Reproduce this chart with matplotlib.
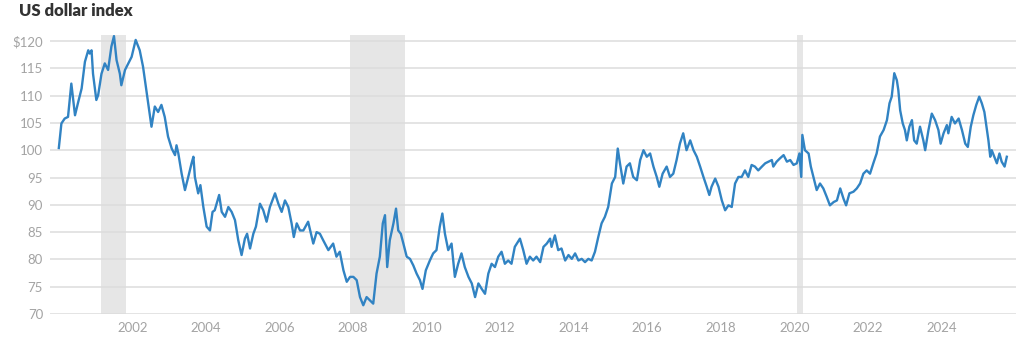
import matplotlib
matplotlib.use("Agg")
import matplotlib.pyplot as plt

# US dollar index (decimal year, index value)
years = [
    2000.00, 2000.07, 2000.16, 2000.25, 2000.34, 2000.44, 2000.53, 2000.62, 2000.71, 2000.80,
    2000.84, 2000.89, 2000.93, 2001.02, 2001.07, 2001.16, 2001.25, 2001.34, 2001.43, 2001.50,
    2001.57, 2001.66, 2001.70, 2001.80, 2001.89, 2001.98, 2002.09, 2002.20, 2002.29, 2002.38,
    2002.48, 2002.52, 2002.61, 2002.70, 2002.79, 2002.88, 2002.97, 2003.07, 2003.16, 2003.20,
    2003.25, 2003.34, 2003.43, 2003.52, 2003.61, 2003.66, 2003.70, 2003.79, 2003.85, 2003.93,
    2004.02, 2004.11, 2004.18, 2004.24, 2004.36, 2004.43, 2004.52, 2004.61, 2004.70, 2004.79,
    2004.88, 2004.97, 2005.06, 2005.12, 2005.20, 2005.29, 2005.36, 2005.47, 2005.56, 2005.65,
    2005.74, 2005.88, 2005.97, 2006.06, 2006.15, 2006.24, 2006.33, 2006.39, 2006.47, 2006.56,
    2006.65, 2006.78, 2006.92, 2007.01, 2007.10, 2007.19, 2007.33, 2007.46, 2007.55, 2007.64,
    2007.74, 2007.83, 2007.92, 2008.01, 2008.10, 2008.19, 2008.28, 2008.37, 2008.46, 2008.55,
    2008.64, 2008.73, 2008.81, 2008.87, 2008.93, 2009.00, 2009.10, 2009.17, 2009.23, 2009.30,
    2009.37, 2009.46, 2009.55, 2009.64, 2009.73, 2009.82, 2009.89, 2009.98, 2010.09, 2010.18,
    2010.27, 2010.36, 2010.43, 2010.50, 2010.59, 2010.68, 2010.77, 2010.86, 2010.95, 2011.04,
    2011.14, 2011.23, 2011.32, 2011.41, 2011.50, 2011.59, 2011.68, 2011.77, 2011.86, 2011.95,
    2012.04, 2012.13, 2012.22, 2012.31, 2012.40, 2012.54, 2012.63, 2012.72, 2012.81, 2012.90,
    2012.99, 2013.09, 2013.18, 2013.27, 2013.36, 2013.40, 2013.49, 2013.58, 2013.67, 2013.77,
    2013.86, 2013.95, 2014.04, 2014.13, 2014.22, 2014.31, 2014.40, 2014.49, 2014.58, 2014.67,
    2014.76, 2014.85, 2014.94, 2015.04, 2015.13, 2015.20, 2015.26, 2015.35, 2015.44, 2015.53,
    2015.62, 2015.72, 2015.81, 2015.90, 2015.99, 2016.08, 2016.17, 2016.26, 2016.33, 2016.42,
    2016.53, 2016.62, 2016.71, 2016.80, 2016.89, 2016.98, 2017.07, 2017.17, 2017.26, 2017.35,
    2017.44, 2017.53, 2017.62, 2017.69, 2017.75, 2017.85, 2017.94, 2018.03, 2018.12, 2018.21,
    2018.30, 2018.39, 2018.48, 2018.57, 2018.66, 2018.75, 2018.84, 2018.93, 2019.02, 2019.12,
    2019.21, 2019.30, 2019.39, 2019.43, 2019.52, 2019.61, 2019.71, 2019.80, 2019.89, 2019.98,
    2020.07, 2020.14, 2020.19, 2020.22, 2020.29, 2020.39, 2020.45, 2020.52, 2020.61, 2020.70,
    2020.79, 2020.88, 2020.97, 2021.07, 2021.16, 2021.25, 2021.34, 2021.41, 2021.50, 2021.61,
    2021.70, 2021.79, 2021.88, 2021.97, 2022.06, 2022.15, 2022.24, 2022.33, 2022.43, 2022.52,
    2022.59, 2022.65, 2022.72, 2022.79, 2022.83, 2022.88, 2022.95, 2023.01, 2023.06, 2023.13,
    2023.20, 2023.26, 2023.33, 2023.42, 2023.51, 2023.56, 2023.65, 2023.74, 2023.83, 2023.92,
    2023.98, 2024.06, 2024.15, 2024.19, 2024.28, 2024.37, 2024.47, 2024.56, 2024.65, 2024.72,
    2024.80, 2024.87, 2024.95, 2025.03, 2025.10, 2025.17, 2025.24, 2025.28, 2025.33, 2025.37,
    2025.44, 2025.51, 2025.58, 2025.64, 2025.72, 2025.78,
]
dxy = [
    100.4, 104.9, 105.8, 106.1, 112.2, 106.4, 108.9, 111.3, 116.2, 118.3,
    117.7, 118.3, 114.0, 109.2, 110.1, 114.0, 115.9, 114.7, 119.0, 120.9,
    116.5, 114.0, 111.9, 114.7, 115.9, 117.1, 120.2, 118.3, 115.3, 111.0,
    106.1, 104.3, 108.0, 107.0, 108.3, 106.1, 102.5, 100.3, 99.1, 100.9,
    99.4, 95.7, 92.7, 95.1, 97.6, 98.8, 95.1, 92.1, 93.6, 89.6,
    86.0, 85.3, 88.7, 89.0, 91.8, 88.7, 87.8, 89.6, 88.7, 87.2,
    83.5, 80.8, 83.8, 84.7, 82.0, 84.7, 86.0, 90.2, 89.0, 86.9,
    89.6, 92.1, 90.2, 88.7, 90.8, 89.6, 86.6, 84.1, 86.6, 85.3,
    85.3, 86.9, 82.9, 85.0, 84.7, 83.5, 81.7, 82.9, 80.5, 81.4,
    78.0, 75.9, 76.8, 76.8, 76.2, 73.1, 71.6, 73.1, 72.5, 71.9,
    77.4, 80.5, 86.6, 88.1, 78.6, 83.5, 86.6, 89.3, 85.3, 84.7,
    82.9, 80.5, 80.1, 78.9, 77.4, 76.2, 74.6, 78.0, 79.8, 81.1,
    81.7, 86.0, 88.4, 84.7, 81.7, 82.9, 76.8, 79.2, 81.1, 78.6,
    76.8, 75.6, 73.1, 75.6, 74.6, 73.7, 77.4, 79.2, 78.6, 80.5,
    81.4, 79.2, 79.8, 79.2, 82.3, 83.8, 81.7, 79.2, 80.5, 79.8,
    80.5, 79.5, 82.3, 82.9, 83.8, 82.3, 84.4, 81.7, 82.0, 79.8,
    80.8, 80.1, 81.1, 79.8, 80.1, 79.5, 80.1, 79.8, 81.4, 84.1,
    86.6, 87.8, 89.6, 93.9, 95.1, 100.3, 97.6, 93.9, 97.0, 97.6,
    95.1, 94.5, 98.2, 100.0, 98.8, 99.4, 97.0, 95.1, 93.3, 95.7,
    97.0, 95.1, 95.7, 98.2, 101.2, 103.1, 100.0, 101.8, 100.0, 98.8,
    97.0, 95.1, 93.3, 91.8, 93.3, 94.8, 93.3, 90.8, 89.0, 89.9,
    89.6, 93.9, 95.1, 95.1, 96.3, 95.1, 97.3, 97.0, 96.3, 97.0,
    97.6, 97.9, 98.2, 97.0, 97.9, 98.5, 99.1, 97.9, 98.2, 97.3,
    97.6, 99.4, 95.1, 102.8, 100.0, 99.4, 97.0, 95.1, 92.7, 93.9,
    93.0, 91.5, 89.9, 90.5, 90.8, 93.0, 91.1, 89.9, 92.1, 92.4,
    93.0, 93.9, 95.7, 96.3, 95.7, 97.6, 99.4, 102.5, 103.7, 105.5,
    108.6, 109.8, 114.1, 112.8, 111.0, 107.3, 104.9, 103.7, 101.8, 104.3,
    105.5, 101.8, 101.2, 104.3, 101.8, 100.0, 103.7, 106.7, 105.5, 103.7,
    101.2, 103.1, 104.6, 103.1, 106.1, 104.9, 105.8, 103.7, 101.2, 100.6,
    104.3, 106.4, 108.3, 109.8, 108.6, 107.0, 103.7, 101.8, 98.8, 100.0,
    98.8, 97.6, 99.4, 97.9, 97.0, 98.8,
]

# recessions (shaded)
recession_starts = [2001.16, 2007.92, 2020.08]
recession_ends = [2001.82, 2009.41, 2020.24]

x_ticks = list(range(2002, 2025, 2))
y_ticks = [70, 75, 80, 85, 90, 95, 100, 105, 110, 115, 120]
y_labels = ["70", "75", "80", "85", "90", "95", "100", "105", "110", "115", "$120"]

plt.rcParams['font.family'] = ['Lato', 'DejaVu Sans']

fig = plt.figure(figsize=(10.24, 3.47), dpi=100)
ax = fig.add_axes([50 / 1024, 33 / 347, 966 / 1024, 279 / 347])

for s, e in zip(recession_starts, recession_ends):
    ax.axvspan(s, e, color='#e6e6e6', lw=0, zorder=0)

ax.plot(years, dxy, color='#3183c3', lw=1.7, zorder=3, solid_joinstyle='round')

ax.set_xlim(1999.76, 2026.03)
ax.set_ylim(70, 121.1)
ax.set_xticks(x_ticks)
ax.set_xticklabels([str(y) for y in x_ticks])
ax.set_yticks(y_ticks)
ax.set_yticklabels(y_labels)
ax.yaxis.grid(True, color='#dcdcdc', lw=1.1, zorder=1)
ax.set_axisbelow(True)
ax.tick_params(axis='both', length=0, labelsize=9.5, labelcolor='#a3a3a3')
ax.tick_params(axis='x', pad=6)
ax.tick_params(axis='y', pad=5)
for sp in ax.spines.values():
    sp.set_visible(False)

fig.text(19 / 1024, 1 - 3 / 347, "US dollar index", fontsize=12, fontweight='heavy',
         color='#333333', ha='left', va='top')

fig.savefig("out.png", dpi=100)
